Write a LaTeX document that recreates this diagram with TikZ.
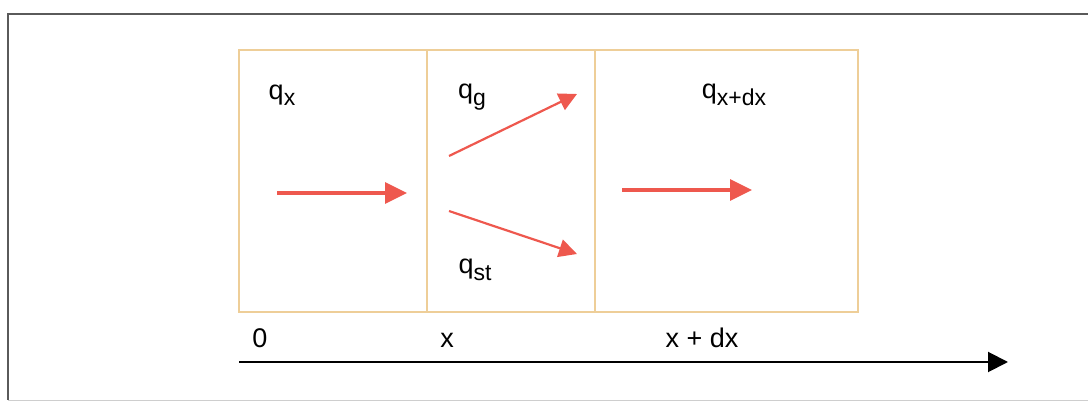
\documentclass[tikz,border=0pt]{standalone}
\usepackage{fontspec}
\setmainfont{Liberation Sans}
\usepackage{tikz}
\usepackage{xcolor}
\usetikzlibrary{arrows.meta}
\definecolor{cellline}{RGB}{238,206,152}
\definecolor{fluxred}{RGB}{238,88,78}
\definecolor{framegray}{RGB}{90,90,90}
\newcommand{\flux}[1]{q\raisebox{-0.45ex}{\fontsize{11.5}{12}\selectfont #1}}

\begin{document}
\begin{tikzpicture}[x=0.5pt,y=-0.5pt,
  lbl/.style={font=\fontsize{13.5}{15}\selectfont,inner sep=0pt},
  flow/.style={line width=1.7pt,fluxred,-{Triangle[length=11pt,width=10.5pt]}},
  split/.style={line width=1.1pt,fluxred,-{Triangle[length=9pt,width=9pt]}}]
  \useasboundingbox (0,0) rectangle (1088,405);
  % outer frame
  \draw[line width=1pt,framegray] (8,400) -- (8,14) -- (1088,14);
  \draw[line width=0.4pt,framegray!30] (8,400) -- (1088,400);

  % control volume
  \draw[line width=0.8pt,cellline] (239,50) rectangle (858,312);
  \draw[line width=0.8pt,cellline] (427,50) -- (427,312);
  \draw[line width=0.8pt,cellline] (595,50) -- (595,312);

  % flux labels
  \node[lbl] (qin) at (282,95) {\flux{x}};
  \node[lbl] (qgen) at (472,97) {\flux{g}};
  \node[lbl] (qsto) at (475,270) {\flux{st}};
  \node[lbl] (qout) at (734,95) {\flux{x+dx}};

  % arrow ends
  \coordinate (inA) at (277,193);
  \coordinate (inB) at (407,193);
  \coordinate (gA) at (449,156);
  \coordinate (gB) at (577,94);
  \coordinate (sA) at (449,211);
  \coordinate (sB) at (577,254);
  \coordinate (outA) at (622,190);
  \coordinate (outB) at (752,190);
  \draw[flow] (inA) -- (inB);
  \draw[split] (gA) -- (gB);
  \draw[split] (sA) -- (sB);
  \draw[flow] (outA) -- (outB);

  % position axis
  \node[lbl] (p0) at (260,338) {0};
  \node[lbl] (px) at (447,340) {x};
  \node[lbl] (pdx) at (702,338) {x + dx};
  \coordinate (axA) at (239,362);
  \coordinate (axB) at (1008,362);
  \draw[line width=1pt,-{Triangle[length=10pt,width=10pt]}] (axA) -- (axB);
\end{tikzpicture}
\end{document}
